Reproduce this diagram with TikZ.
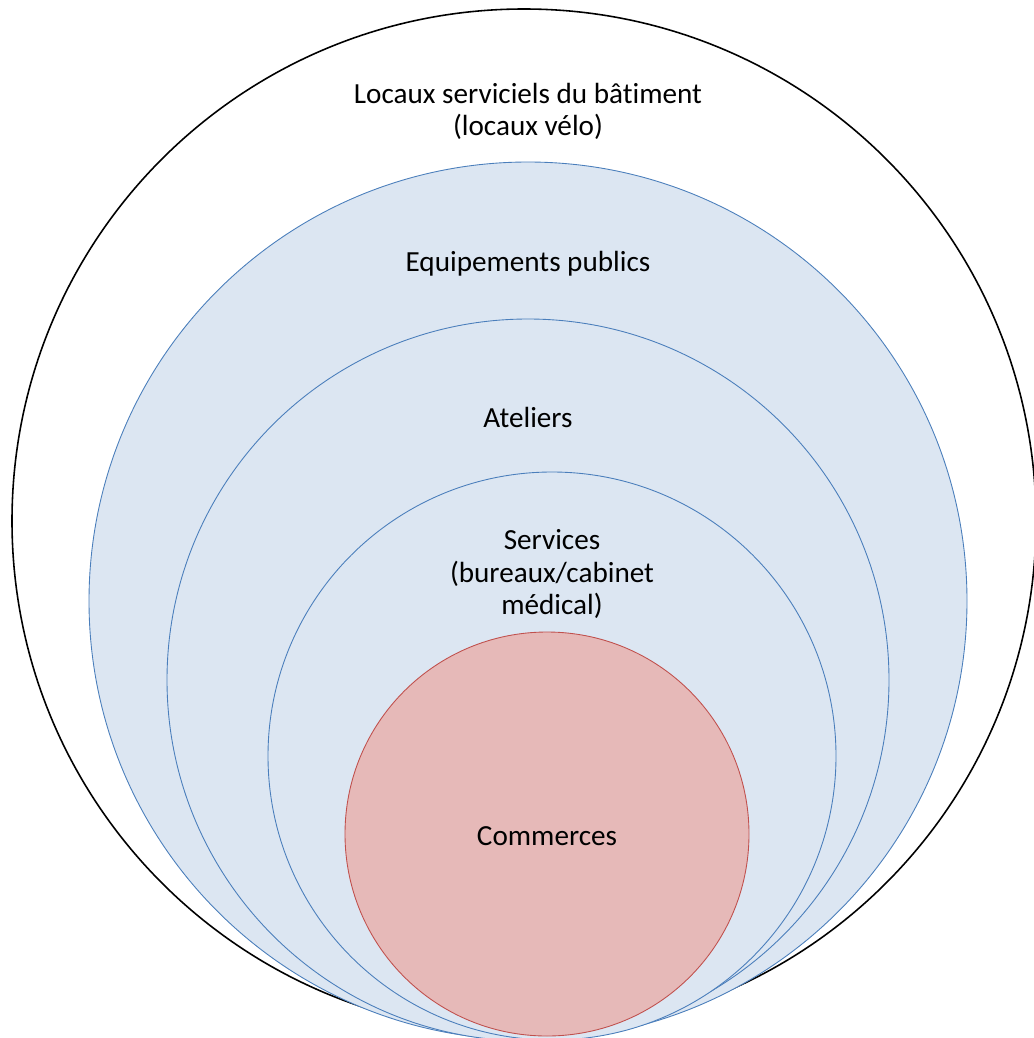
\documentclass[tikz,border=0pt]{standalone}
\usepackage{fontspec}
\setmainfont{Carlito}[Ligatures=NoCommon]
\definecolor{zoneblue}{HTML}{DCE6F2}
\definecolor{lineblue}{HTML}{4A7EBB}
\definecolor{zonered}{HTML}{E6B9B8}
\definecolor{linered}{HTML}{C0504D}
\begin{document}
\begin{tikzpicture}[x=0.02cm,y=-0.02cm]
\tikzset{
  outerring/.style={draw=black, line width=0.9pt},
  bluering/.style={draw=lineblue, fill=zoneblue, line width=0.5pt},
  redring/.style={draw=linered, fill=zonered, line width=0.5pt},
  label/.style={align=center, font=\fontsize{16.6}{18.3}\selectfont, inner sep=0pt}
}
\useasboundingbox (0,0) rectangle (1034,1038);
% nested zones, all touching at the bottom
\draw [outerring] (524,521) circle (512);
\draw [bluering] (528,601) circle (439);
\draw [bluering] (528,680) circle (361);
\draw [bluering] (552,756) circle (284);
\draw [redring] (547,834) circle (202);
% labels
\node [label] (locaux) at (528,111) {Locaux serviciels du bâtiment\\(locaux vélo)};
\node [label] (equip) at (528,264) {Equipements publics};
\node [label] (ateliers) at (528,417) {Ateliers};
\node [label] (services) at (552,574) {Services\\(bureaux/cabinet\\médical)};
\node [label] (commerces) at (547,836) {Commerces};
\end{tikzpicture}
\end{document}
